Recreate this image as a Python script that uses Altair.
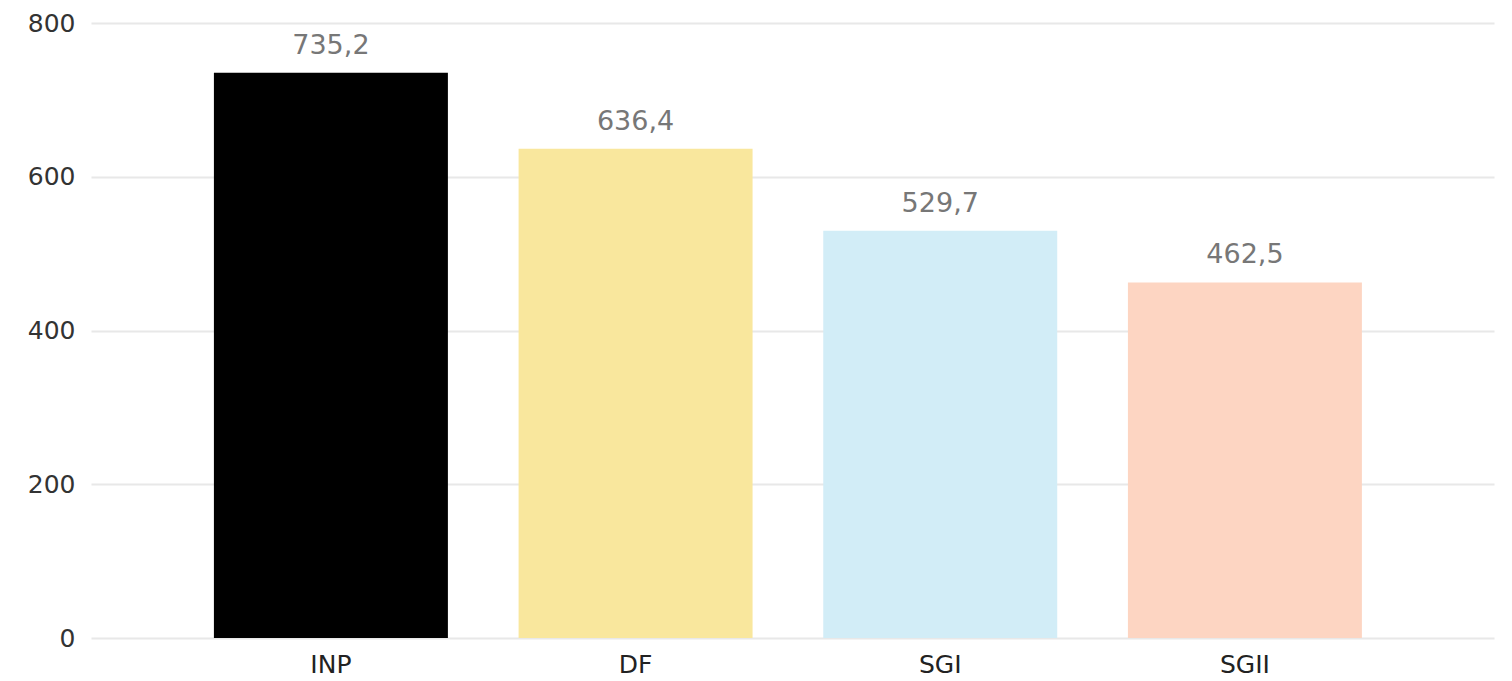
import altair as alt
import pandas as pd

categories = ["INP", "DF", "SGI", "SGII"]
values = [735.2, 636.4, 529.7, 462.5]
colors = ["#000000", "#F9E79D", "#D2EDF7", "#FDD5C2"]
y_ticks = [0, 200, 400, 600, 800]

df = pd.DataFrame({"cat": categories, "val": values})

FONT = "DejaVu Sans"

x = alt.X("cat:N", sort=categories, title=None,
          scale=alt.Scale(paddingInner=0.232, paddingOuter=0.4185, align=0.482),
          axis=alt.Axis(labelAngle=0, labelFontSize=25, labelColor="#222222",
                        labelFont=FONT, ticks=False, domain=False, labelPadding=14,
                        grid=False))
y = alt.Y("val:Q", title=None,
          scale=alt.Scale(domain=[0, 800], nice=False),
          axis=alt.Axis(values=y_ticks, labelFontSize=25, labelColor="#333333",
                        labelFont=FONT, ticks=False, domain=False, labelPadding=16,
                        gridColor="#E8E8E8", gridWidth=2))

bars = alt.Chart(df).mark_bar().encode(
    x=x, y=y,
    color=alt.Color("cat:N", scale=alt.Scale(domain=categories, range=colors), legend=None),
)

labels = alt.Chart(df).transform_calculate(
    lab="replace(format(datum.val, '.1f'), '.', ',')"
).mark_text(baseline="bottom", dy=-13, fontSize=27, color="#777777", font=FONT).encode(
    x=alt.X("cat:N", sort=categories),
    y="val:Q",
    text="lab:N",
)

chart = (bars + labels).properties(
    width=1403, height=615,
    autosize=alt.AutoSizeParams(type="none"),
    padding={"left": 83, "top": 15, "right": 10, "bottom": 40},
).configure_view(stroke=None)

chart.save("out.html", embed_options={"renderer": "svg", "actions": False})
